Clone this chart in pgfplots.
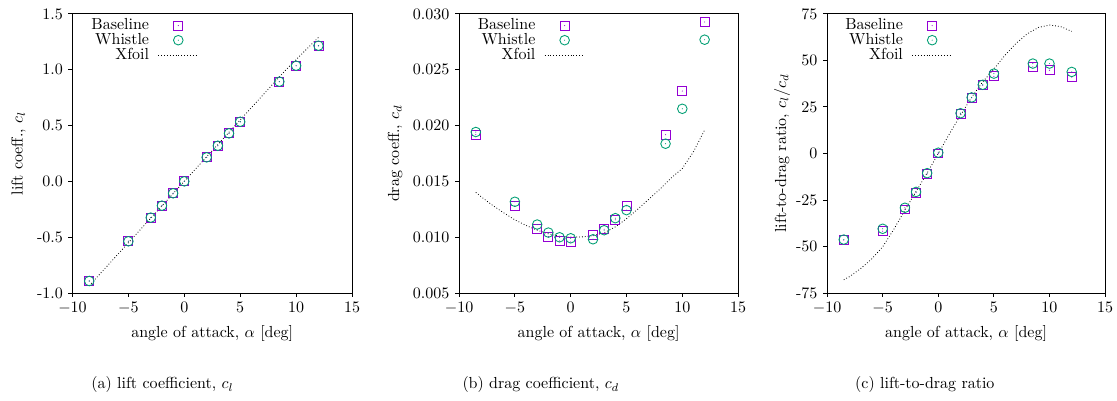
\documentclass[border=0pt]{standalone}
\usepackage{pgfplots}
\pgfplotsset{compat=1.18}

\definecolor{cbase}{HTML}{9400D3}
\definecolor{cwhis}{HTML}{009E73}

% open square / open circle, each with a small dot in the middle
\pgfdeclareplotmark{sqdot}{%
  \pgfpathrectangle{\pgfqpoint{-\pgfplotmarksize}{-\pgfplotmarksize}}{\pgfqpoint{2\pgfplotmarksize}{2\pgfplotmarksize}}%
  \pgfusepathqstroke
  \pgfpathcircle{\pgfpointorigin}{0.35pt}\pgfusepathqfill}
\pgfdeclareplotmark{circdot}{%
  \pgfpathcircle{\pgfpointorigin}{\pgfplotmarksize}\pgfusepathqstroke
  \pgfpathcircle{\pgfpointorigin}{0.35pt}\pgfusepathqfill}

\pgfplotsset{
  panel/.style={
    scale only axis,
    anchor=south west,
    height=174.4pt,
    xmin=-10, xmax=15,
    xtick={-10,-5,0,5,10,15},
    tick align=outside,
    xtick pos=left, ytick pos=left,
    major tick length=2.5pt,
    axis line style={line width=0.55pt},
    every tick/.style={line width=0.55pt, black},
    scaled y ticks=false,
    xlabel={angle of attack, $\alpha$ [deg]},
    xlabel style={at={(axis description cs:0.5,-0.158)}, anchor=base},
    legend style={draw=none, fill=none, at={(0.47,0.995)}, anchor=north east,
      nodes={inner sep=0pt}, row sep=0.7pt, column sep=5.5pt},
    legend cell align=right,
    legend plot pos=right,
  },
  base/.style={only marks, mark=sqdot, mark size=2.8pt, color=cbase, line width=0.55pt,
    legend image code/.code={\path (0pt,0pt) (25pt,0pt); \draw[##1] plot coordinates {(12.5pt,0pt)};}},
  whis/.style={only marks, mark=circdot, mark size=3pt, color=cwhis, line width=0.55pt,
    legend image code/.code={\path (0pt,0pt) (25pt,0pt); \draw[##1] plot coordinates {(12.5pt,0pt)};}},
  xfoil/.style={black, line width=0.5pt, dash pattern=on 0.5pt off 1.3pt, no marks,
    legend image code/.code={\draw[##1] (0pt,0pt) -- (25pt,0pt);}},
}

\begin{document}
\begin{tikzpicture}
\useasboundingbox (0,0) rectangle (698.1pt,250.6pt);

% (a) lift coefficient
\begin{axis}[panel, at={(45.3pt,67.5pt)}, width=174.7pt,
  ymin=-1, ymax=1.5,
  ytick={-1,-0.5,0,0.5,1,1.5},
  yticklabels={-1.0,-0.5,0.0,0.5,1.0,1.5},
  ylabel={lift coeff., $c_l$},
  ylabel style={at={(axis description cs:-0.193,0.5)}, anchor=center},
]
\addplot[base] coordinates {
(-8.5,-0.893) (-5,-0.537) (-3,-0.325) (-2,-0.218) (-1,-0.107) (0,0.000)
(2,0.215) (3,0.319) (4,0.430) (5,0.534) (8.5,0.893) (10,1.036) (12,1.215)};
\addlegendentry{Baseline}
\addplot[whis] coordinates {
(-8.5,-0.893) (-5,-0.537) (-3,-0.325) (-2,-0.218) (-1,-0.107) (0,0.000)
(2,0.215) (3,0.319) (4,0.430) (5,0.534) (8.5,0.893) (10,1.036) (12,1.215)};
\addlegendentry{Whistle}
\addplot[xfoil] coordinates {
(-8.5,-0.935) (-8,-0.880) (-7,-0.770) (-6,-0.660) (-5,-0.550) (-4,-0.440)
(-3,-0.330) (-2,-0.220) (-1,-0.110) (0,0.000) (1,0.110) (2,0.220) (3,0.330)
(4,0.440) (5,0.550) (6,0.660) (7,0.770) (8,0.880) (9,0.990) (10,1.090)
(11,1.190) (12,1.290)};
\addlegendentry{Xfoil}
\end{axis}

% (b) drag coefficient
\begin{axis}[panel, at={(286.9pt,67.5pt)}, width=174.4pt,
  ymin=0.005, ymax=0.030,
  ytick={0.005,0.010,0.015,0.020,0.025,0.030},
  yticklabels={0.005,0.010,0.015,0.020,0.025,0.030},
  ylabel={drag coeff., $c_d$},
  ylabel style={at={(axis description cs:-0.229,0.5)}, anchor=center},
]
\addplot[base] coordinates {
(-8.5,0.01918) (-5,0.01281) (-3,0.01071) (-2,0.01005) (-1,0.00966) (0,0.00957)
(2,0.01017) (3,0.01071) (4,0.01155) (5,0.01281) (8.5,0.01918) (10,0.02309) (12,0.02928)};
\addlegendentry{Baseline}
\addplot[whis] coordinates {
(-8.5,0.01942) (-5,0.01317) (-3,0.01113) (-2,0.01041) (-1,0.00999) (0,0.00990)
(2,0.00981) (3,0.01062) (4,0.01170) (5,0.01242) (8.5,0.01837) (10,0.02150) (12,0.02769)};
\addlegendentry{Whistle}
\addplot[xfoil] coordinates {
(-8.5,0.01401) (-8,0.01360) (-7,0.01285) (-6,0.01218) (-5,0.01155) (-4,0.01105)
(-3,0.01063) (-2,0.01030) (-1,0.01008) (0,0.01000) (1,0.01002) (2,0.01012)
(3,0.01040) (4,0.01092) (5,0.01165) (6,0.01250) (7,0.01340) (8,0.01430)
(8.5,0.01480) (9,0.01530) (10,0.01615) (11,0.01765) (12,0.01960)};
\addlegendentry{Xfoil}
\end{axis}

% (c) lift-to-drag ratio
\begin{axis}[panel, at={(516.9pt,67.5pt)}, width=173.75pt,
  ymin=-75, ymax=75,
  ytick={-75,-50,-25,0,25,50,75},
  yticklabels={-75,-50,-25,0,25,50,75},
  ylabel={lift-to-drag ratio, $c_l/c_d$},
  ylabel style={at={(axis description cs:-0.162,0.5)}, anchor=center},
]
\addplot[base] coordinates {
(-8.5,-46.6) (-5,-41.8) (-3,-30.1) (-2,-21.1) (-1,-11.0) (0,0.0)
(2,21.2) (3,29.9) (4,36.6) (5,41.4) (8.5,46.5) (10,44.7) (12,41.1)};
\addlegendentry{Baseline}
\addplot[whis] coordinates {
(-8.5,-46.3) (-5,-40.5) (-3,-29.2) (-2,-20.7) (-1,-10.6) (0,0.4)
(2,21.6) (3,30.1) (4,36.9) (5,42.9) (8.5,48.3) (10,48.3) (12,43.8)};
\addlegendentry{Whistle}
\addplot[xfoil] coordinates {
(-8.5,-67.9) (-8,-66.3) (-7,-62.0) (-6,-56.8) (-5,-50.2) (-4,-40.8)
(-3,-30.5) (-2,-20.5) (-1,-10.5) (0,0.0) (1,10.5) (2,20.5) (3,30.2)
(4,38.5) (5,45.3) (6,52.8) (7,59.2) (8,64.3) (9,67.7) (10,69.0)
(11,68.2) (12,65.6)};
\addlegendentry{Xfoil}
\end{axis}

% sub-figure captions
\node[anchor=base] at (101.5pt,7.5pt) {(a) lift coefficient, $c_l$};
\node[anchor=base] at (338pt,7.5pt) {(b) drag coefficient, $c_d$};
\node[anchor=base] at (578pt,7.5pt) {(c) lift-to-drag ratio};
\end{tikzpicture}
\end{document}
